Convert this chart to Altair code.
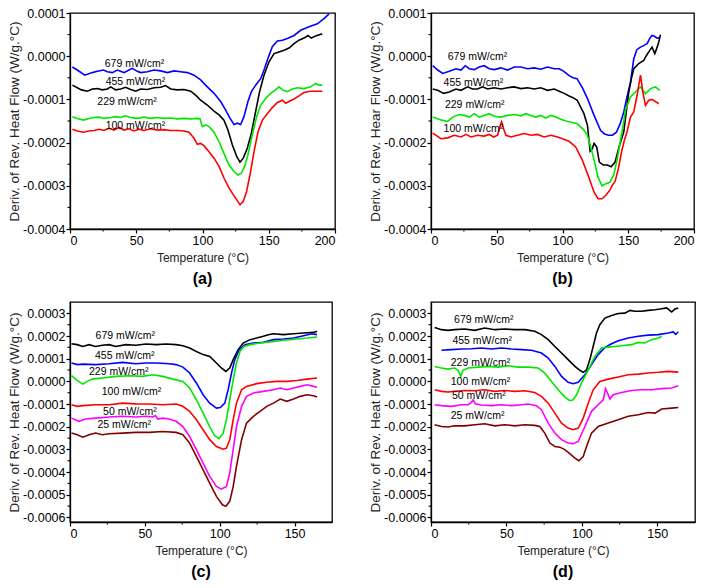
import altair as alt
import pandas as pd

FONT = "Liberation Sans"

# ---------------- data (values of the derivative are in units of 1e-4 W/g.°C) -------------
# panel (a)
a_679 = [(1.8,-0.25),(5.5,-0.32),(11.1,-0.44),(16.9,-0.38),(20.6,-0.35),(25.2,-0.32),(28.2,-0.36),(31.9,-0.38),(35.7,-0.32),(40.8,-0.38),(44.5,-0.32),(47.0,-0.28),(50.8,-0.35),(53.3,-0.38),(58.4,-0.36),(63.4,-0.32),(68.4,-0.34),(73.5,-0.38),(78.5,-0.34),(83.5,-0.36),(88.6,-0.38),(93.6,-0.44),(98.6,-0.55),(103.6,-0.71),(108.7,-0.86),(113.7,-1.05),(117.5,-1.25),(120.8,-1.44),(123.8,-1.58),(126.3,-1.55),(128.8,-1.58),(131.3,-1.40),(134.3,-1.05),(136.9,-0.82),(140.1,-0.67),(143.9,-0.52),(146.4,-0.32),(149.4,-0.05),(152.7,0.22),(156.5,0.35),(160.3,0.37),(164.0,0.41),(169.1,0.48),(174.1,0.60),(180.4,0.68),(186.7,0.75),(191.7,0.87),(195.5,0.98)]
a_455 = [(1.8,-0.67),(5.5,-0.73),(8.6,-0.78),(13.1,-0.81),(16.9,-0.76),(20.6,-0.75),(24.4,-0.78),(28.2,-0.76),(30.7,-0.71),(34.5,-0.78),(38.2,-0.76),(42.0,-0.72),(45.8,-0.77),(49.6,-0.81),(53.3,-0.76),(58.4,-0.77),(63.4,-0.73),(68.4,-0.72),(72.2,-0.68),(76.0,-0.76),(81.0,-0.78),(86.0,-0.77),(91.1,-0.81),(94.8,-0.90),(98.6,-1.02),(103.6,-1.13),(108.7,-1.27),(112.5,-1.36),(116.2,-1.48),(119.2,-1.71),(122.5,-2.05),(125.8,-2.32),(128.3,-2.45),(130.8,-2.36),(133.8,-2.13),(136.9,-1.78),(140.1,-1.28),(143.1,-0.82),(146.4,-0.44),(150.2,-0.13),(154.0,0.06),(157.7,0.10),(161.5,0.14),(165.3,0.19),(169.1,0.29),(172.8,0.37),(176.6,0.42),(179.6,0.48),(182.1,0.42),(185.4,0.47),(190.4,0.52)]
a_229 = [(1.8,-1.40),(5.5,-1.44),(10.1,-1.48),(14.3,-1.44),(18.1,-1.42),(21.9,-1.41),(25.7,-1.44),(30.7,-1.42),(34.5,-1.40),(38.2,-1.42),(42.0,-1.38),(45.8,-1.42),(50.8,-1.44),(55.8,-1.41),(60.9,-1.44),(65.9,-1.42),(70.9,-1.44),(76.0,-1.43),(81.0,-1.45),(86.0,-1.44),(91.1,-1.45),(95.6,-1.44),(98.1,-1.45),(99.9,-1.63),(102.4,-1.59),(104.9,-1.63),(108.7,-1.76),(112.5,-1.98),(116.2,-2.25),(120.0,-2.52),(123.8,-2.67),(126.8,-2.75),(129.3,-2.71),(131.8,-2.55),(134.3,-2.28),(137.6,-1.82),(140.9,-1.40),(143.9,-1.13),(147.7,-0.98),(151.4,-0.86),(155.2,-0.78),(157.7,-0.71),(160.3,-0.78),(164.0,-0.82),(167.8,-0.76),(171.6,-0.73),(176.6,-0.75),(181.6,-0.71),(185.4,-0.63),(187.9,-0.67),(190.4,-0.67)]
a_100 = [(1.8,-1.69),(5.5,-1.73),(10.1,-1.76),(14.3,-1.73),(18.1,-1.72),(21.9,-1.69),(25.7,-1.72),(29.4,-1.67),(33.2,-1.71),(37.0,-1.65),(40.8,-1.71),(44.5,-1.68),(48.3,-1.73),(52.1,-1.69),(55.8,-1.72),(60.9,-1.68),(65.9,-1.71),(70.9,-1.70),(76.0,-1.72),(81.0,-1.72),(86.0,-1.73),(89.8,-1.76),(93.6,-1.90),(96.1,-2.04),(98.6,-2.02),(101.1,-2.07),(104.9,-2.21),(108.7,-2.36),(112.5,-2.55),(116.2,-2.82),(120.0,-3.05),(123.3,-3.21),(125.8,-3.32),(128.3,-3.44),(130.8,-3.36),(133.3,-3.13),(135.8,-2.75),(138.9,-2.21),(141.9,-1.75),(145.2,-1.48),(149.2,-1.32),(152.7,-1.19),(156.5,-1.07),(160.3,-1.02),(162.8,-1.09),(165.3,-1.05),(169.1,-0.99),(172.8,-0.92),(176.6,-0.84),(181.6,-0.81),(186.7,-0.81),(190.4,-0.81)]

# panel (b)
b_679 = [(1.3,-0.22),(5.1,-0.32),(8.9,-0.40),(13.9,-0.35),(19.0,-0.29),(22.8,-0.32),(26.1,-0.22),(29.1,-0.29),(32.9,-0.31),(36.7,-0.25),(40.5,-0.22),(44.3,-0.29),(48.1,-0.31),(53.2,-0.27),(58.2,-0.32),(63.3,-0.25),(68.4,-0.25),(73.4,-0.29),(78.5,-0.27),(83.5,-0.30),(88.6,-0.25),(93.7,-0.29),(97.5,-0.29),(101.0,-0.35),(105.0,-0.45),(108.0,-0.50),(111.0,-0.52),(115.0,-0.72),(119.0,-0.98),(124.0,-1.37),(129.0,-1.72),(132.0,-1.80),(135.0,-1.83),(138.0,-1.83),(141.0,-1.76),(144.0,-1.55),(146.6,-1.29),(149.0,-0.95),(151.7,-0.60),(154.2,-0.06),(156.5,0.15),(159.3,0.21),(162.0,0.25),(164.3,0.29),(166.5,0.42),(168.0,0.48),(170.0,0.46),(172.0,0.42),(174.0,0.43)]
b_455 = [(1.3,-0.76),(5.1,-0.79),(9.6,-0.86),(13.9,-0.83),(19.0,-0.76),(22.8,-0.79),(27.8,-0.71),(31.6,-0.76),(35.4,-0.76),(39.2,-0.71),(43.0,-0.76),(48.1,-0.73),(53.2,-0.76),(58.2,-0.73),(63.3,-0.71),(68.4,-0.75),(73.4,-0.73),(78.5,-0.76),(83.5,-0.73),(88.6,-0.79),(93.7,-0.76),(97.5,-0.81),(101.3,-0.86),(105.0,-0.92),(108.0,-0.96),(111.2,-1.02),(116.3,-1.33),(119.0,-1.60),(121.0,-2.20),(122.5,-2.15),(124.0,-2.02),(126.0,-2.10),(128.0,-2.45),(131.0,-2.52),(134.0,-2.52),(137.0,-2.56),(140.0,-2.45),(143.0,-2.10),(146.6,-1.75),(150.4,-0.83),(152.5,-0.50),(154.2,-0.29),(158.0,-0.17),(161.8,-0.10),(163.5,0.0),(165.6,0.10),(168.1,0.21),(170.2,0.06),(172.0,0.21),(173.2,0.33),(174.5,0.50)]
b_229 = [(1.3,-1.41),(8.1,-1.48),(12.7,-1.51),(16.5,-1.41),(21.5,-1.35),(25.3,-1.37),(29.1,-1.41),(32.9,-1.33),(36.7,-1.41),(40.5,-1.37),(44.3,-1.33),(48.1,-1.39),(53.2,-1.41),(58.2,-1.37),(63.3,-1.35),(68.4,-1.38),(72.2,-1.33),(76.0,-1.37),(79.7,-1.41),(83.5,-1.37),(87.3,-1.43),(91.1,-1.37),(94.9,-1.41),(98.7,-1.46),(102.5,-1.50),(106.3,-1.53),(111.0,-1.56),(116.0,-1.70),(118.8,-1.82),(121.0,-2.05),(124.0,-2.40),(127.0,-2.80),(130.0,-3.00),(133.0,-2.95),(136.0,-2.92),(139.0,-2.75),(141.5,-2.40),(143.5,-2.05),(145.3,-1.75),(147.9,-1.25),(151.7,-0.94),(155.5,-0.83),(159.3,-0.71),(161.0,-0.78),(163.1,-0.87),(166.9,-0.75),(170.7,-0.71),(174.0,-0.79)]
b_100 = [(1.3,-1.78),(7.6,-1.91),(12.7,-1.89),(17.7,-1.83),(22.8,-1.87),(26.6,-1.81),(30.4,-1.87),(35.4,-1.83),(40.5,-1.85),(44.3,-1.81),(47.6,-1.87),(50.6,-1.83),(52.7,-1.60),(53.7,-1.52),(55.2,-1.68),(57.0,-1.83),(60.8,-1.87),(65.8,-1.83),(70.9,-1.79),(76.0,-1.83),(81.0,-1.81),(86.0,-1.87),(91.1,-1.83),(96.2,-1.87),(100.0,-1.91),(105.0,-1.97),(110.0,-2.10),(115.0,-2.40),(120.0,-2.80),(124.0,-3.15),(127.0,-3.30),(130.0,-3.30),(133.0,-3.22),(136.0,-3.10),(138.0,-2.98),(140.0,-2.90),(142.5,-2.60),(145.0,-2.20),(147.0,-1.95),(149.1,-1.75),(151.7,-1.41),(154.2,-1.29),(156.7,-0.91),(159.3,-0.44),(161.1,-0.83),(163.1,-1.14),(165.6,-1.02),(168.1,-1.00),(173.2,-1.10)]

# panel (c)
c_679 = [(1.0,1.66),(4.8,1.62),(8.6,1.54),(12.7,1.62),(17.1,1.54),(21.6,1.59),(26.1,1.62),(30.6,1.54),(37.3,1.62),(44.0,1.59),(50.7,1.65),(57.5,1.62),(64.2,1.65),(70.9,1.62),(75.4,1.57),(79.9,1.47),(84.4,1.32),(88.9,1.18),(93.3,1.10),(97.8,0.81),(101.1,0.59),(104.1,0.44),(106.7,0.59),(109.0,0.96),(112.3,1.40),(115.7,1.69),(120.2,1.84),(124.7,1.91),(129.1,1.99),(132.5,2.06),(135.9,2.10),(142.6,2.06),(149.3,2.10),(156.0,2.13),(162.7,2.16),(165.0,2.21)]
c_455 = [(1.0,0.81),(4.8,0.74),(8.6,0.76),(17.1,0.74),(26.1,0.78),(35.1,0.84),(44.0,0.78),(50.7,0.81),(57.5,0.81),(66.4,0.78),(70.9,0.74),(75.4,0.63),(79.9,0.37),(84.4,-0.07),(88.9,-0.59),(93.3,-0.96),(97.8,-1.18),(100.4,-1.15),(103.4,-0.96),(105.6,-0.37),(107.9,0.37),(110.1,0.96),(113.0,1.40),(116.8,1.62),(122.5,1.69),(129.1,1.72),(135.9,1.84),(142.6,1.87),(149.3,1.91),(156.0,2.01),(161.6,2.10),(165.0,2.06)]
c_229 = [(1.0,0.25),(4.8,0.04),(8.6,-0.12),(11.5,0.0),(14.9,0.10),(21.6,0.15),(30.6,0.22),(39.5,0.25),(48.5,0.22),(55.2,0.29),(61.9,0.22),(68.7,0.10),(75.4,0.0),(79.9,-0.29),(84.4,-0.81),(88.9,-1.40),(93.3,-1.99),(96.7,-2.40),(99.6,-2.53),(102.3,-2.28),(104.5,-1.69),(106.7,-0.81),(109.0,0.07),(111.2,0.81),(113.5,1.32),(116.2,1.54),(120.2,1.62),(126.9,1.69),(133.6,1.74),(142.6,1.81),(151.6,1.87),(158.3,1.91),(165.0,1.96)]
c_100 = [(1.0,-1.03),(4.8,-1.10),(8.6,-1.07),(17.1,-1.03),(26.1,-1.03),(35.1,-0.96),(44.0,-0.99),(53.0,-1.00),(61.9,-1.03),(70.9,-1.00),(75.4,-1.10),(79.9,-1.32),(84.4,-1.69),(88.9,-2.13),(93.3,-2.57),(97.8,-2.87),(102.3,-2.99),(104.5,-2.94),(106.7,-2.57),(109.0,-1.69),(111.2,-0.96),(114.6,-0.37),(117.9,-0.22),(124.7,-0.10),(131.4,-0.04),(138.1,0.0),(144.8,0.0),(151.6,0.04),(158.3,0.10),(165.0,0.15)]
c_50 = [(1.0,-1.62),(5.9,-1.76),(10.4,-1.66),(17.1,-1.62),(26.1,-1.57),(35.1,-1.54),(44.0,-1.57),(50.7,-1.54),(55.2,-1.57),(57.0,-1.51),(58.6,-1.66),(61.9,-1.62),(66.4,-1.66),(70.9,-1.76),(75.4,-1.99),(79.9,-2.43),(84.4,-3.01),(88.9,-3.60),(93.3,-4.19),(97.8,-4.63),(101.1,-4.75),(104.5,-4.63),(106.7,-4.04),(109.0,-3.01),(111.2,-1.99),(114.6,-1.10),(117.9,-0.66),(122.5,-0.51),(129.1,-0.44),(135.9,-0.37),(140.4,-0.29),(144.8,-0.37),(149.3,-0.29),(153.8,-0.22),(158.3,-0.15),(162.7,-0.22),(165.0,-0.26)]
c_25 = [(1.0,-2.28),(4.8,-2.35),(8.6,-2.46),(12.7,-2.35),(17.1,-2.28),(21.6,-2.35),(26.1,-2.31),(35.1,-2.28),(44.0,-2.25),(53.0,-2.25),(61.9,-2.21),(70.9,-2.25),(75.4,-2.35),(79.9,-2.72),(84.4,-3.31),(88.9,-3.90),(93.3,-4.49),(97.8,-5.07),(101.8,-5.44),(104.1,-5.51),(106.7,-5.29),(109.0,-4.63),(111.2,-3.75),(114.6,-2.57),(117.9,-1.84),(122.5,-1.54),(127.0,-1.32),(131.4,-1.10),(135.9,-0.96),(140.4,-0.78),(144.8,-0.88),(149.3,-0.78),(153.8,-0.66),(158.3,-0.59),(162.7,-0.63),(165.0,-0.69)]

# panel (d)
d_679 = [(2.4,2.38),(6.9,2.28),(11.3,2.25),(15.7,2.28),(22.3,2.31),(29.0,2.25),(35.6,2.35),(42.3,2.28),(48.9,2.31),(55.5,2.28),(62.2,2.28),(68.8,2.21),(73.2,2.06),(77.7,1.84),(82.1,1.54),(86.5,1.25),(90.9,0.96),(95.4,0.66),(98.7,0.49),(100.9,0.40),(103.1,0.51),(105.3,0.96),(107.5,1.54),(109.7,2.13),(111.9,2.50),(115.3,2.79),(119.7,2.90),(124.1,2.99),(128.5,3.01),(131.9,3.13),(135.2,3.09),(139.6,3.09),(144.0,3.13),(148.5,3.16),(151.8,3.19),(156.2,3.24),(159.5,3.06),(161.7,3.19),(163.9,3.24)]
d_455 = [(6.9,1.37),(13.5,1.40),(20.1,1.43),(26.8,1.44),(33.4,1.47),(40.0,1.43),(46.7,1.47),(53.3,1.43),(60.0,1.40),(66.6,1.37),(73.2,1.25),(77.7,1.03),(82.1,0.66),(86.5,0.22),(90.9,-0.04),(94.2,-0.10),(97.6,-0.04),(102.0,0.29),(106.4,0.74),(110.8,1.18),(115.3,1.50),(119.7,1.66),(124.1,1.79),(130.8,1.91),(137.4,1.99),(144.0,2.04),(150.7,2.06),(157.3,2.13),(160.6,2.18),(162.2,2.07),(163.9,2.19)]
d_229 = [(2.4,0.66),(6.9,0.59),(11.3,0.54),(15.7,0.59),(17.9,0.49),(19.7,0.22),(21.2,0.49),(24.6,0.59),(31.2,0.63),(37.8,0.66),(44.5,0.63),(51.1,0.69),(57.7,0.63),(64.4,0.63),(71.0,0.59),(75.4,0.37),(79.9,0.0),(84.3,-0.37),(88.7,-0.69),(92.0,-0.85),(94.2,-0.81),(96.5,-0.59),(99.8,-0.07),(104.2,0.51),(108.6,1.10),(113.1,1.47),(117.5,1.51),(121.9,1.54),(126.3,1.57),(133.0,1.62),(137.4,1.72),(141.8,1.69),(146.2,1.84),(150.7,1.91),(152.9,1.99)]
d_100 = [(2.4,-0.37),(6.9,-0.44),(11.3,-0.47),(15.7,-0.44),(22.3,-0.40),(29.0,-0.41),(35.6,-0.37),(42.3,-0.44),(48.9,-0.40),(55.5,-0.44),(62.2,-0.41),(68.8,-0.49),(73.2,-0.66),(77.7,-0.96),(82.1,-1.40),(86.5,-1.84),(90.9,-2.06),(94.2,-2.13),(97.6,-2.06),(100.9,-1.62),(104.2,-0.96),(107.5,-0.37),(111.9,0.0),(117.5,0.10),(124.1,0.19),(130.8,0.29),(137.4,0.32),(144.0,0.37),(150.7,0.40),(157.3,0.44),(163.9,0.41)]
d_50 = [(2.4,-1.03),(6.9,-1.07),(13.5,-1.10),(20.1,-1.03),(24.6,-1.03),(26.8,-0.93),(27.9,-0.81),(29.4,-0.99),(33.4,-1.04),(40.0,-1.07),(46.7,-1.03),(53.3,-1.07),(60.0,-1.03),(64.4,-1.00),(69.9,-1.07),(73.2,-1.25),(77.7,-1.84),(82.1,-2.28),(86.5,-2.57),(90.9,-2.72),(94.2,-2.75),(97.6,-2.65),(102.0,-1.99),(106.4,-1.32),(110.8,-1.03),(114.2,-0.81),(115.7,-0.32),(117.0,-0.51),(118.6,-0.78),(120.8,-0.59),(126.3,-0.49),(133.0,-0.40),(139.6,-0.37),(146.2,-0.37),(152.9,-0.32),(159.5,-0.29),(163.9,-0.19)]
d_25 = [(2.4,-1.91),(6.9,-1.99),(11.3,-2.01),(15.7,-1.96),(22.3,-1.96),(29.0,-1.91),(35.6,-1.87),(42.3,-1.96),(48.9,-1.91),(55.5,-1.96),(62.2,-1.91),(68.8,-1.94),(72.1,-1.99),(75.4,-2.28),(78.8,-2.72),(82.1,-2.87),(85.4,-2.90),(88.7,-3.01),(92.0,-3.19),(95.4,-3.38),(98.0,-3.50),(100.9,-3.31),(103.1,-2.87),(106.4,-2.28),(110.8,-1.99),(117.5,-1.84),(124.1,-1.69),(130.8,-1.54),(137.4,-1.47),(144.0,-1.37),(148.5,-1.40),(152.9,-1.22),(159.5,-1.18),(163.9,-1.15)]

# curve labels: (text, T, value)
a_labels = [("679 mW/cm²", 26.2, -0.17), ("455 mW/cm²", 26.9, -0.59), ("229 mW/cm²", 20.6, -1.05), ("100 mW/cm²", 26.9, -1.61)]
b_labels = [("679 mW/cm²", 12.7, -0.02), ("455 mW/cm²", 9.6, -0.63), ("229 mW/cm²", 10.6, -1.12), ("100 mW/cm²", 9.6, -1.68)]
c_labels = [("679 mW/cm²", 17.1, 1.99), ("455 mW/cm²", 16.7, 1.10), ("229 mW/cm²", 12.7, 0.41), ("100 mW/cm²", 21.2, -0.49), ("50 mW/cm²", 22.1, -1.35), ("25 mW/cm²", 18.3, -1.91)]
d_labels = [("679 mW/cm²", 15.3, 2.72), ("455 mW/cm²", 14.2, 1.76), ("229 mW/cm²", 13.1, 0.81), ("100 mW/cm²", 13.1, -0.04), ("50 mW/cm²", 13.9, -0.66), ("25 mW/cm²", 13.1, -1.54)]

# axes: major and minor tick values
x_ticks_ab = [0, 50, 100, 150, 200]
x_ticks_cd = [0, 50, 100, 150]
x_minor_ab = [25, 75, 125, 175]
x_minor_cd = [25, 75, 125]
y_ticks_ab = [-0.0004, -0.0003, -0.0002, -0.0001, 0.0, 0.0001]
y_ticks_cd = [-0.0006, -0.0005, -0.0004, -0.0003, -0.0002, -0.0001, 0.0, 0.0001, 0.0002, 0.0003]
y_minor_ab = [-0.00035, -0.00025, -0.00015, -0.00005, 0.00005]
y_minor_cd = [-0.00055, -0.00045, -0.00035, -0.00025, -0.00015, -0.00005, 0.00005, 0.00015, 0.00025]

BLUE, BLACK, GREEN, RED, MAGENTA, BROWN = "#0000ff", "#000000", "#00e600", "#ff0000", "#ff00ff", "#800000"

UNIT = 1e-4


def build(curves, labels, xdom, ydom, xticks, yticks, xminor, yminor, ytitle, tag, w, h):
    rows = []
    keys, cols = [], []
    for key, pts, col in curves:
        keys.append(key)
        cols.append(col)
        for t, v in pts:
            rows.append({"T": t, "V": v * UNIT, "s": key})
    df = pd.DataFrame(rows)
    lab = pd.DataFrame([{"T": t, "V": v * UNIT, "txt": s} for s, t, v in labels])

    x = alt.X("T:Q", scale=alt.Scale(domain=xdom, nice=False, zero=False),
              axis=alt.Axis(values=xticks, title="Temperature (°C)", format="d"))
    y = alt.Y("V:Q", scale=alt.Scale(domain=ydom, nice=False, zero=False),
              axis=alt.Axis(values=yticks, title=ytitle,
                            labelExpr="(datum.value < -1e-12 ? '-' : '') + format(abs(datum.value), '.4f')"))
    lines = alt.Chart(df).mark_line(strokeWidth=1.6, clip=True).encode(
        x=x, y=y,
        color=alt.Color("s:N", scale=alt.Scale(domain=keys, range=cols), legend=None),
        detail="s:N",
    )
    text = alt.Chart(lab).mark_text(align="left", baseline="middle", fontSize=10.5,
                                    font=FONT, color="black").encode(x=x, y=y, text="txt:N")
    xm = alt.Chart(pd.DataFrame({"T": xminor})).mark_rule(color="black", strokeWidth=1.1).encode(
        x=x, y=alt.value(h), y2=alt.value(h + 2.5))
    ym = alt.Chart(pd.DataFrame({"V": yminor})).mark_rule(color="black", strokeWidth=1.1).encode(
        y=y, x=alt.value(0), x2=alt.value(-2.5))
    return alt.layer(lines, text, xm, ym).properties(
        width=w, height=h,
        title=alt.TitleParams(tag, orient="bottom", fontSize=16, fontWeight="bold",
                              font=FONT, color="black", offset=7, anchor="middle"),
    )


pa = build([("a679", a_679, BLUE), ("a455", a_455, BLACK), ("a229", a_229, GREEN), ("a100", a_100, RED)],
           a_labels, [0, 200], [-0.0004, 0.0001], x_ticks_ab, y_ticks_ab, x_minor_ab, y_minor_ab,
           "Deriv. of Rev. Heat Flow (W/g.°C)", "(a)", 265, 216)
pb = build([("b679", b_679, BLUE), ("b455", b_455, BLACK), ("b229", b_229, GREEN), ("b100", b_100, RED)],
           b_labels, [0, 200], [-0.0004, 0.0001], x_ticks_ab, y_ticks_ab, x_minor_ab, y_minor_ab,
           "Deriv. of Rev. Hear Flow (W/g.°C)", "(b)", 263, 216)
pc = build([("c679", c_679, BLACK), ("c455", c_455, BLUE), ("c229", c_229, GREEN), ("c100", c_100, RED),
            ("c50", c_50, MAGENTA), ("c25", c_25, BROWN)],
           c_labels, [0, 175], [-0.00062, 0.00035], x_ticks_cd, y_ticks_cd, x_minor_cd, y_minor_cd,
           "Deriv. of Rev. Heat Flow (W/g.°C)", "(c)", 262, 220)
pd_ = build([("d679", d_679, BLACK), ("d455", d_455, BLUE), ("d229", d_229, GREEN), ("d100", d_100, RED),
             ("d50", d_50, MAGENTA), ("d25", d_25, BROWN)],
            d_labels, [0, 175], [-0.00062, 0.00035], x_ticks_cd, y_ticks_cd, x_minor_cd, y_minor_cd,
            "Deriv. of Rev. Heat Flow (W/g.°C)", "(d)", 264, 220)

chart = alt.concat(pa, pb, pc, pd_, columns=2, spacing={"row": 73, "column": 96}, bounds="flush").resolve_scale(
    x="independent", y="independent", color="independent"
).properties(
    padding={"left": -2, "top": -2, "right": 0, "bottom": 0}, background="white"
).configure_view(
    stroke="black", strokeWidth=1.3
).configure_axis(
    grid=False, domainColor="black", domainWidth=1.3, tickColor="black", tickWidth=1.2, tickSize=4,
    labelColor="black", labelFont=FONT, labelFontSize=12.5, labelPadding=1,
    titleColor="#222222", titleFont=FONT, titleFontWeight="normal",
).configure_axisX(
    titleFontSize=12, titlePadding=6
).configure_axisY(
    titleFontSize=13.5, titlePadding=1
)

chart.save("out.html", embed_options={"renderer": "svg", "actions": False})
